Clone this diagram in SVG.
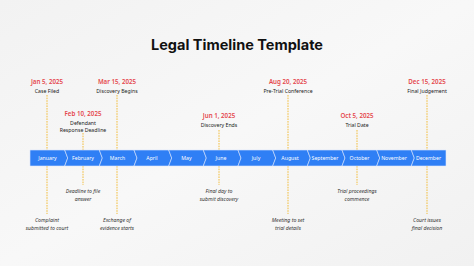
<svg xmlns="http://www.w3.org/2000/svg" width="474" height="266" viewBox="0 0 474 266">
<defs>
<linearGradient id="bg" x1="0" y1="0" x2="1" y2="1">
<stop offset="0" stop-color="#f2f2f2"/>
<stop offset="0.5" stop-color="#f8f8f8"/>
<stop offset="1" stop-color="#f1f1f1"/>
</linearGradient>
</defs>
<style>
.title{font-family:Inter,"Liberation Sans",sans-serif;font-weight:700;font-size:14.5px;fill:#111;text-anchor:middle}
.date{font-family:"Noto Sans","Liberation Sans",sans-serif;font-weight:600;font-size:6.2px;fill:#e5484d;text-anchor:middle}
.ev{font-family:"Noto Sans","Liberation Sans",sans-serif;font-size:5.2px;fill:#222;text-anchor:middle}
.note{font-family:"Noto Sans","Liberation Sans",sans-serif;font-style:italic;font-size:5.2px;fill:#333;text-anchor:middle}
.mon{font-family:"Noto Sans","Liberation Sans",sans-serif;font-size:5.2px;fill:#fff;text-anchor:middle}
.cell{fill:#2f7ff5;stroke:#dbe6fb;stroke-width:0.6;stroke-linejoin:round}
.dash{stroke:#f2bd3c;stroke-width:1;stroke-dasharray:1.6 1;fill:none}
</style>
<rect width="474" height="266" fill="url(#bg)"/>
<text class="title" x="237" y="50">Legal Timeline Template</text>

<g id="connectors">
<line class="dash" x1="47" y1="95" x2="47" y2="150"/>
<line class="dash" x1="47" y1="166" x2="47" y2="214"/>
<line class="dash" x1="83" y1="133" x2="83" y2="150"/>
<line class="dash" x1="83" y1="166" x2="83" y2="185"/>
<line class="dash" x1="117" y1="95" x2="117" y2="150"/>
<line class="dash" x1="117" y1="166" x2="117" y2="214"/>
<line class="dash" x1="219" y1="130" x2="219" y2="150"/>
<line class="dash" x1="219" y1="166" x2="219" y2="185"/>
<line class="dash" x1="288" y1="95" x2="288" y2="150"/>
<line class="dash" x1="288" y1="166" x2="288" y2="214"/>
<line class="dash" x1="357" y1="130" x2="357" y2="150"/>
<line class="dash" x1="357" y1="166" x2="357" y2="185"/>
<line class="dash" x1="427" y1="95" x2="427" y2="150"/>
<line class="dash" x1="427" y1="166" x2="427" y2="214"/>
</g>

<g id="bar">
<polygon class="cell" points="30,150 64.7,150 67.7,158 64.7,166 30,166"/>
<polygon class="cell" points="64.7,150 99.3,150 102.3,158 99.3,166 64.7,166 67.7,158"/>
<polygon class="cell" points="99.3,150 134,150 137,158 134,166 99.3,166 102.3,158"/>
<polygon class="cell" points="134,150 168.7,150 171.7,158 168.7,166 134,166 137,158"/>
<polygon class="cell" points="168.7,150 203.3,150 206.3,158 203.3,166 168.7,166 171.7,158"/>
<polygon class="cell" points="203.3,150 238,150 241,158 238,166 203.3,166 206.3,158"/>
<polygon class="cell" points="238,150 272.7,150 275.7,158 272.7,166 238,166 241,158"/>
<polygon class="cell" points="272.7,150 307.3,150 310.3,158 307.3,166 272.7,166 275.7,158"/>
<polygon class="cell" points="307.3,150 342,150 345,158 342,166 307.3,166 310.3,158"/>
<polygon class="cell" points="342,150 376.7,150 379.7,158 376.7,166 342,166 345,158"/>
<polygon class="cell" points="376.7,150 411.3,150 414.3,158 411.3,166 376.7,166 379.7,158"/>
<polygon class="cell" points="411.3,150 446,150 446,166 411.3,166 414.3,158"/>
<text class="mon" x="47.5" y="160">January</text>
<text class="mon" x="83" y="160">February</text>
<text class="mon" x="117.5" y="160">March</text>
<text class="mon" x="152" y="160">April</text>
<text class="mon" x="186.5" y="160">May</text>
<text class="mon" x="221" y="160">June</text>
<text class="mon" x="256" y="160">July</text>
<text class="mon" x="290" y="160">August</text>
<text class="mon" x="325" y="160">September</text>
<text class="mon" x="359.5" y="160">October</text>
<text class="mon" x="394" y="160">November</text>
<text class="mon" x="428.5" y="160">December</text>
</g>

<g id="jan">
<text class="date" x="47" y="84">Jan 5, 2025</text>
<text class="ev" x="47" y="93">Case Filed</text>
<text class="note" x="47" y="222">Complaint</text>
<text class="note" x="47" y="229.5">submitted to court</text>
</g>
<g id="feb">
<text class="date" x="83" y="116">Feb 10, 2025</text>
<text class="ev" x="83" y="125">Defendant</text>
<text class="ev" x="83" y="132">Response Deadline</text>
<text class="note" x="83" y="193">Deadline to file</text>
<text class="note" x="83" y="200.5">answer</text>
</g>
<g id="mar">
<text class="date" x="117" y="84">Mar 15, 2025</text>
<text class="ev" x="117" y="93">Discovery Begins</text>
<text class="note" x="117" y="222">Exchange of</text>
<text class="note" x="117" y="229.5">evidence starts</text>
</g>
<g id="jun">
<text class="date" x="219" y="118">Jun 1, 2025</text>
<text class="ev" x="219" y="127">Discovery Ends</text>
<text class="note" x="219" y="193">Final day to</text>
<text class="note" x="219" y="200.5">submit discovery</text>
</g>
<g id="aug">
<text class="date" x="288" y="84">Aug 20, 2025</text>
<text class="ev" x="288" y="93">Pre-Trial Conference</text>
<text class="note" x="288" y="222">Meeting to set</text>
<text class="note" x="288" y="229.5">trial details</text>
</g>
<g id="oct">
<text class="date" x="357" y="118">Oct 5, 2025</text>
<text class="ev" x="357" y="127">Trial Date</text>
<text class="note" x="357" y="193">Trial proceedings</text>
<text class="note" x="357" y="200.5">commence</text>
</g>
<g id="dec">
<text class="date" x="427" y="84">Dec 15, 2025</text>
<text class="ev" x="427" y="93">Final Judgement</text>
<text class="note" x="427" y="222">Court issues</text>
<text class="note" x="427" y="229.5">final decision</text>
</g>
</svg>
